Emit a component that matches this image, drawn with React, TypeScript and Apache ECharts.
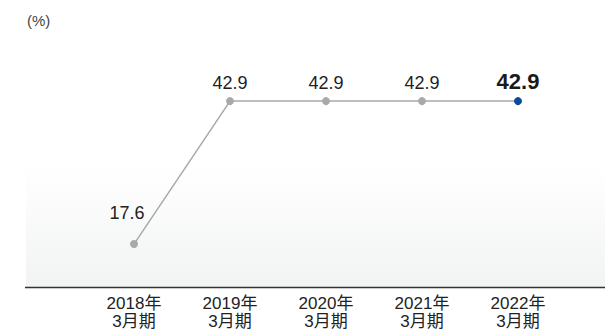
import React, { useEffect, useRef } from "react";
import * as echarts from "echarts";

const categories = ["2018年\n3月期", "2019年\n3月期", "2020年\n3月期", "2021年\n3月期", "2022年\n3月期"];
const values = [17.6, 42.9, 42.9, 42.9, 42.9];
const unitLabel = "(%)";

const FONT = "'Liberation Sans', 'Noto Sans CJK JP', sans-serif";

export default function App() {
  const ref = useRef<HTMLDivElement>(null);
  useEffect(() => {
    if (!ref.current) return;
    const chart = echarts.init(ref.current, undefined, { renderer: "svg" });
    const last = values.length - 1;
    const data = values.map((v, i) => {
      const item: any = { value: v };
      if (i === last) {
        item.itemStyle = { color: "#0b4a95" };
        item.label = { fontWeight: "bold", fontSize: 22, color: "#1a1a1a" };
      }
      if (i === 0) {
        item.label = { offset: [-7, -13] };
      }
      return item;
    });
    chart.setOption({
      animation: false,
      backgroundColor: "#ffffff",
      textStyle: { fontFamily: FONT },
      grid: { left: 86, right: 39, top: 61, bottom: 46, containLabel: false },
      graphic: [
        {
          type: "rect",
          z: -10,
          shape: { x: 26, y: 165, width: 579, height: 122 },
          style: {
            fill: new echarts.graphic.LinearGradient(0, 0, 0, 1, [
              { offset: 0, color: "#ffffff" },
              { offset: 1, color: "#f2f3f3" },
            ]),
          },
        },
        {
          type: "line",
          z: 10,
          shape: { x1: 25, y1: 287.5, x2: 605, y2: 287.5 },
          style: { stroke: "#333333", lineWidth: 1.5 },
        },
        {
          type: "text",
          left: 27,
          top: 13,
          style: { text: unitLabel, fontSize: 15, fill: "#444444", fontFamily: FONT },
        },
      ],
      xAxis: {
        type: "category",
        data: categories,
        boundaryGap: true,
        axisLine: { show: false },
        axisTick: { show: false },
        splitLine: { show: false },
        axisLabel: {
          fontSize: 17,
          lineHeight: 18,
          color: "#222222",
          margin: 7,
          fontFamily: FONT,
        },
      },
      yAxis: {
        type: "value",
        min: 10,
        max: 50,
        show: false,
        splitLine: { show: false },
      },
      series: [
        {
          type: "line",
          data,
          symbol: "circle",
          symbolSize: 8,
          lineStyle: { color: "#a9a9a9", width: 1.5 },
          itemStyle: { color: "#a7a9ac" },
          label: {
            show: true,
            position: "top",
            distance: 5,
            fontSize: 18,
            color: "#222222",
            fontFamily: FONT,
          },
        },
      ],
    });
    return () => chart.dispose();
  }, []);
  return <div ref={ref} style={{ position: "absolute", left: 0, top: 0, width: 605, height: 333 }} />;
}
